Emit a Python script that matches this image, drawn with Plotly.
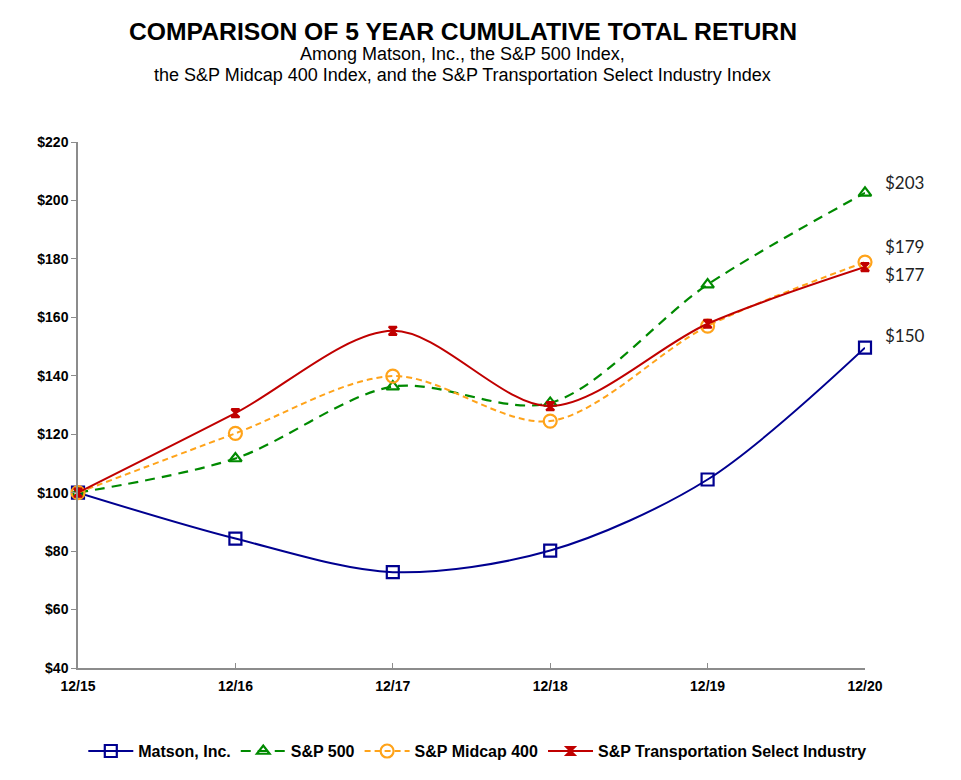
import plotly.graph_objects as go

periods = ["12/15", "12/16", "12/17", "12/18", "12/19", "12/20"]
matson = [100, 84.3, 72.8, 80.2, 104.5, 149.6]
sp500 = [100, 111.7, 136.3, 130.7, 171.2, 202.6]
midcap = [100, 120.3, 139.9, 124.5, 157.0, 178.9]
transport = [100, 127.2, 155.4, 129.6, 157.8, 177.2]
end_labels = ["$150", "$203", "$179", "$177"]
y_ticks = [40, 60, 80, 100, 120, 140, 160, 180, 200, 220]

x_idx = list(range(len(periods)))

series = [
    dict(name="Matson, Inc.", y=matson, color="#000090", dash="solid", symbol="square-open", size=12, width=2),
    dict(name="S&P 500", y=sp500, color="#008A00", dash="10px,7px", symbol="triangle-up-open", size=11, width=2.2),
    dict(name="S&P Midcap 400", y=midcap, color="#FFA31A", dash="6px,4px", symbol="circle-open", size=13, width=2),
    dict(name="S&P Transportation Select Industry", y=transport, color="#C00000", dash="solid", symbol="hourglass", size=8, width=2),
]

fig = go.Figure()
for s in series:
    fig.add_trace(go.Scatter(
        x=x_idx, y=s["y"], name=f"<b>{s['name']}</b>", mode="lines+markers",
        line=dict(color=s["color"], width=s["width"], dash=s["dash"], shape="spline", smoothing=0.9),
        marker=dict(symbol=s["symbol"], size=s["size"], color=s["color"],
                    line=dict(color=s["color"], width=2.2)),
        cliponaxis=False,
    ))

# end labels
label_shift = {"$203": 10, "$179": 16, "$177": -7, "$150": 12}
for s, lab in zip(series, end_labels):
    fig.add_annotation(
        x=x_idx[-1], y=s["y"][-1], xref="x", yref="y", text=lab, showarrow=False,
        xanchor="left", xshift=18, yshift=label_shift[lab],
        font=dict(family="Lato, Open Sans, sans-serif", size=17, color="#222222"),
    )

fig.add_annotation(x=0.489, y=1.0, xref="paper", yref="paper", yshift=111, yanchor="middle",
                   text="<b>COMPARISON OF 5 YEAR CUMULATIVE TOTAL RETURN</b>", showarrow=False,
                   font=dict(family="Liberation Sans, Arial", size=24.7, color="#000"))
fig.add_annotation(x=0.489, y=1.0, xref="paper", yref="paper", yshift=88, yanchor="middle",
                   text="Among Matson, Inc., the S&P 500 Index,", showarrow=False,
                   font=dict(family="Liberation Sans, Arial", size=18, color="#000"))
fig.add_annotation(x=0.489, y=1.0, xref="paper", yref="paper", yshift=67, yanchor="middle",
                   text="the S&P Midcap 400 Index, and the S&P Transportation Select Industry Index", showarrow=False,
                   font=dict(family="Liberation Sans, Arial", size=18, color="#000"))

fig.update_layout(
    width=961, height=780,
    margin=dict(l=70, r=104, t=134, b=120),
    paper_bgcolor="white", plot_bgcolor="white",
    showlegend=True,
    legend=dict(orientation="h", x=0.508, xanchor="center",
                y=-0.158, yanchor="middle",
                font=dict(family="Liberation Sans, Arial", size=16, color="#000"),
                tracegroupgap=0, itemsizing="trace", itemwidth=45),
    xaxis=dict(
        range=[0, 5], tickmode="array", tickvals=x_idx, ticktext=[f"<b>{p}</b>" for p in periods],
        showgrid=False, zeroline=False, showline=True, linecolor="#8c8c8c", linewidth=1.5,
        ticks="inside", ticklen=5, tickcolor="#8c8c8c", ticklabelstandoff=4,
        tickfont=dict(family="Liberation Sans, Arial", size=14, color="#000"),
    ),
    yaxis=dict(
        range=[40, 220], tickmode="array", tickvals=y_ticks,
        ticktext=[f"<b>${v}</b>" for v in y_ticks],
        showgrid=False, zeroline=False, showline=True, linecolor="#8c8c8c", linewidth=1.5,
        ticks="outside", ticklen=5, tickcolor="#8c8c8c",
        tickfont=dict(family="Liberation Sans, Arial", size=14, color="#000"),
    ),
)

fig.write_html("out.html")
